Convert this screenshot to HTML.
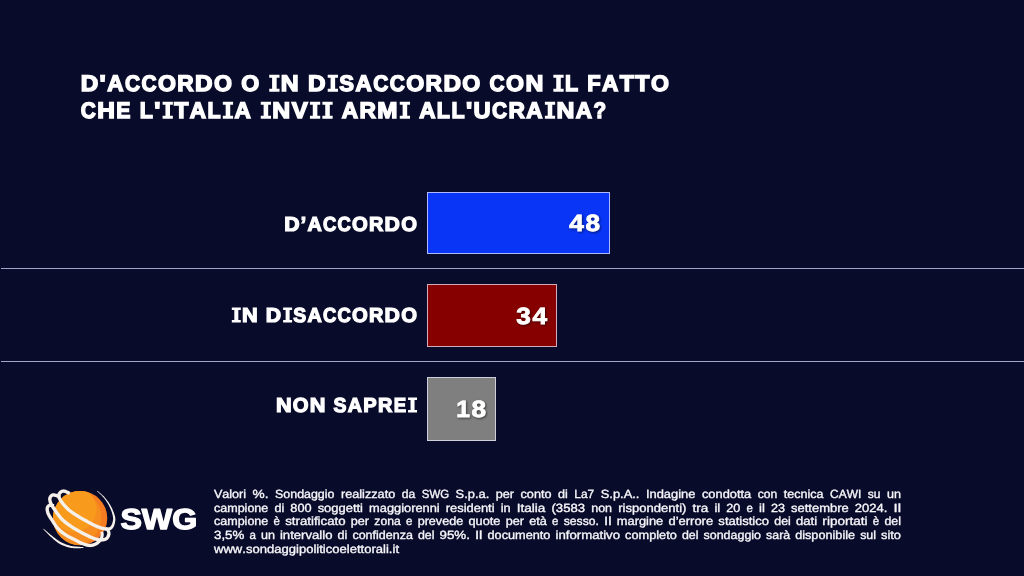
<!DOCTYPE html>
<html><head><meta charset="utf-8">
<style>
html,body{margin:0;padding:0;}
body{width:1024px;height:576px;background:#090b2a;overflow:hidden;position:relative;font-family:"Liberation Sans",sans-serif;}
.bar{position:absolute;left:427px;box-sizing:border-box;border:1px solid rgba(238,238,255,.72);}
.sep{position:absolute;left:1px;width:1023px;height:1px;background:#a4a4c8;}
svg{position:absolute;left:0;top:0;}
text{font-family:"Liberation Sans",sans-serif;white-space:pre;font-variant-ligatures:none;font-kerning:none;}
.b{font-weight:bold;}
.r{font-weight:normal;}
</style></head><body>
<div class="bar" style="top:192px;width:183px;height:62px;background:#0835f6;"></div>
<div class="bar" style="top:284px;width:130px;height:63px;background:#870000;"></div>
<div class="bar" style="top:377px;width:69px;height:63.6px;background:#7f7f80;"></div>
<div class="sep" style="top:268px;"></div>
<div class="sep" style="top:361px;"></div>

<svg id="logo" style="left:36px;top:482px;" width="180" height="80" viewBox="0 0 1440 640">
<defs><clipPath id="bc"><circle cx="353" cy="289" r="217"/></clipPath></defs>
<circle cx="353" cy="289" r="217" fill="#f57c20"/>
<g clip-path="url(#bc)"><circle cx="296" cy="285" r="228" fill="#f68d1e"/><circle cx="306" cy="220" r="178" fill="#f89a1c"/></g>
<g fill="#f6f0ea">
<path d="M276 80L272 78L268 76L264 74L260 72L256 70L251 68L247 66L243 64L238 62L234 60L229 59L224 59L219 58L215 59L211 60L207 61L203 62L199 64L196 66L192 68L189 70L187 72L184 75L182 77L180 79L178 82L176 85L174 88L173 91L171 95L170 99L169 103L169 107L169 111L169 115L170 120L171 124L172 129L174 133L176 137L178 142L181 146L184 151L186 156L189 160L193 165L196 170L199 174L203 179L207 184L211 189L215 194L220 199L224 204L229 209L234 214L239 219L244 224L249 229L254 233L259 238L265 242L270 246L275 250L281 254L286 257L292 261L297 265L303 268L308 271L313 275L319 278L324 282L329 285L334 288L340 291L345 295L350 298L355 301L361 304L367 307L373 311L379 314L386 318L393 322L400 326L408 330L417 335L425 339L434 344L443 349L452 353L460 358L469 362L477 365L485 369L492 371L500 374L507 377L514 379L521 381L528 383L535 385L541 386L548 388L554 389L560 389L565 389L571 390L576 389L581 389L585 388L590 387L594 385L598 383L602 381L605 378L609 375L612 372L615 368L618 364L620 360L623 355L625 350L627 345L628 340L630 334L631 329L632 323L633 318L634 313L634 308L635 303L635 299L635 294L634 289L634 285L633 280L632 276L631 271L630 267L628 262L627 257L625 252L623 246L621 241L619 235L616 229L614 223L611 216L608 210L605 204L602 198L598 192L595 186L592 180L589 175L585 169L582 164L578 158L574 153L570 148L566 143L562 138L558 133L554 128L550 123L546 118L542 114L537 109L533 105L528 101L524 97L519 93L515 89L510 86L505 82L501 78L496 74L492 70L488 74L493 78L497 82L502 86L506 90L510 94L515 98L519 102L524 106L528 110L532 115L536 119L540 124L544 128L548 133L551 138L555 143L559 148L562 153L566 159L569 164L573 169L576 175L579 180L582 186L585 191L588 197L591 203L594 209L596 215L599 222L601 228L604 234L606 240L608 245L609 251L611 256L612 261L613 266L614 270L615 275L616 279L616 283L617 287L617 290L617 294L617 298L616 302L616 306L615 310L614 315L613 319L612 324L610 329L609 333L607 337L605 342L603 345L601 349L599 351L597 354L595 356L593 357L591 359L589 360L587 361L585 361L583 362L580 362L577 363L574 363L571 363L567 363L562 362L558 362L552 361L547 360L541 358L535 357L529 355L522 353L516 351L509 349L502 346L495 343L488 340L480 337L472 333L464 329L455 325L447 320L438 316L430 311L421 307L413 302L406 298L398 294L392 291L386 287L380 284L374 281L369 278L364 275L359 271L354 268L349 265L344 262L339 259L333 256L328 252L322 249L317 245L312 242L306 238L301 235L296 231L291 228L286 224L281 221L276 217L272 213L267 209L263 204L258 200L253 195L249 190L244 186L240 181L236 176L232 171L228 167L224 162L221 158L218 154L215 149L212 145L209 141L207 137L204 133L202 130L201 126L199 123L198 119L197 117L196 114L196 112L196 110L196 108L196 107L196 105L197 104L197 102L198 101L199 99L200 98L201 96L202 95L203 94L205 92L206 91L208 90L209 89L211 88L213 87L215 86L217 86L218 86L220 85L222 85L224 86L226 86L229 87L232 89L236 90L240 92L243 94L248 96L252 98L256 100L260 102L264 104Z"/>
<path d="M199 107L194 106L190 104L185 102L180 100L174 98L169 96L164 94L159 93L153 91L148 90L143 90L137 90L132 90L127 92L123 93L119 96L115 98L112 101L109 105L106 108L104 111L102 115L101 118L99 122L98 126L97 130L97 134L97 138L97 142L98 146L98 150L99 154L100 158L101 163L103 167L104 171L106 175L108 179L110 184L112 188L115 192L117 197L120 201L123 206L126 211L129 215L132 220L136 226L139 231L143 237L148 243L152 249L156 255L161 262L166 268L171 275L176 281L181 288L186 293L191 299L196 305L201 310L206 315L212 319L217 324L222 329L228 333L233 337L238 342L244 346L249 350L255 354L261 358L267 362L273 366L279 370L285 374L291 378L297 381L303 385L310 388L316 392L321 395L327 399L333 402L339 405L344 408L350 412L356 415L361 418L367 421L372 424L378 427L384 429L389 432L395 435L401 438L407 441L413 444L419 447L426 450L432 453L438 455L444 458L450 460L456 463L462 465L468 467L473 469L479 470L484 471L489 473L494 474L499 475L504 475L508 476L513 476L518 477L522 477L527 476L531 476L535 476L540 475L544 474L548 473L552 472L556 471L560 469L564 467L568 465L571 463L575 460L578 457L581 454L584 450L586 446L588 442L590 439L592 435L593 431L594 427L595 423L596 419L596 415L597 411L596 407L596 404L595 400L594 396L593 393L592 390L590 387L589 384L587 382L586 379L585 377L583 375L581 372L579 370L577 368L575 366L573 365L572 364L570 362L568 361L567 360L566 359L564 358L550 374L551 375L553 377L554 379L556 380L557 381L559 382L560 383L561 385L561 386L562 387L563 388L563 389L564 391L565 393L566 395L567 397L568 399L568 402L569 404L569 406L570 408L570 409L570 411L570 413L569 415L569 417L568 420L567 422L566 425L565 428L564 430L563 433L561 435L560 437L558 439L557 440L556 441L554 442L552 443L549 445L547 446L544 446L541 447L538 448L535 449L532 449L529 449L525 450L522 450L518 450L515 449L511 449L507 449L503 448L499 447L495 446L490 445L486 444L481 443L476 441L471 439L466 438L460 435L455 433L449 431L443 428L437 425L431 422L425 419L419 417L413 414L407 411L401 408L396 405L390 403L385 400L379 397L374 394L368 391L363 388L358 385L352 382L346 379L341 375L335 372L329 369L323 365L317 362L311 358L305 355L299 351L293 347L288 344L282 340L276 336L271 332L266 328L260 324L255 320L250 316L245 312L240 308L235 304L230 299L225 295L220 290L216 286L211 281L206 276L202 270L197 264L192 258L188 252L183 246L178 240L174 233L170 227L166 221L162 216L158 210L155 205L152 201L149 196L146 192L143 187L141 183L138 179L136 175L134 172L133 168L131 165L130 161L128 158L127 154L126 151L125 148L125 145L124 142L124 140L124 137L124 135L124 133L124 132L125 130L125 129L126 127L127 125L128 123L129 122L131 121L132 119L133 118L135 118L136 117L137 117L139 116L141 116L143 117L147 118L151 119L155 120L160 122L165 124L170 125L175 127L181 129L186 131L191 133Z"/>
<path d="M146 177L143 176L140 176L137 175L134 175L130 174L127 174L123 173L119 173L115 172L111 173L107 173L103 174L99 176L96 178L93 180L90 182L87 185L85 188L83 191L81 194L79 197L78 201L77 204L77 208L76 212L76 216L76 220L76 224L77 228L78 232L79 237L80 241L81 246L82 250L84 255L86 259L88 264L90 268L92 273L95 277L98 282L100 287L103 291L106 296L109 300L112 305L116 310L119 314L122 319L125 324L128 329L132 335L135 340L139 346L143 352L146 357L151 363L155 368L159 374L164 379L169 384L174 389L179 394L184 399L189 404L195 408L200 413L206 417L212 422L218 426L224 430L230 434L236 438L242 442L249 446L256 449L262 453L269 456L276 459L282 463L289 466L295 468L300 471L306 474L311 477L316 479L320 482L325 484L329 487L333 489L338 492L342 494L347 496L351 498L356 501L361 503L366 504L371 506L376 508L382 510L387 512L393 514L398 516L404 517L409 518L415 519L421 520L426 520L432 521L438 520L443 520L448 519L454 518L459 517L464 516L469 514L474 512L479 510L483 508L488 506L492 503L496 500L500 497L504 494L508 490L511 487L515 483L518 479L521 476L523 472L526 469L528 466L530 462L532 458L534 455L536 451L537 448L538 444L539 441L540 437L541 434L541 431L542 428L542 425L542 421L542 418L542 415L541 412L541 409L540 407L540 404L539 402L538 400L538 399L537 397L537 395L515 399L516 401L516 404L517 406L517 408L518 410L518 412L518 414L518 415L518 417L518 418L518 420L518 421L517 424L517 426L516 428L516 431L515 433L514 436L513 438L512 441L510 443L509 446L508 448L506 450L504 453L502 456L499 459L497 462L494 465L492 468L489 471L486 474L483 476L480 478L477 480L474 482L471 484L468 485L464 487L460 488L456 490L452 491L448 492L444 492L440 493L436 493L432 494L428 494L423 493L419 493L415 492L410 491L405 490L400 488L396 487L391 485L386 483L381 481L376 479L371 477L367 476L362 474L358 472L354 470L350 468L346 466L342 463L338 461L333 458L329 456L324 453L318 450L312 447L306 444L300 441L294 438L287 435L281 432L275 429L268 425L262 422L256 419L250 415L244 412L239 408L233 404L228 400L223 396L217 392L212 388L207 383L202 379L197 374L193 370L188 365L184 361L180 356L176 352L172 347L168 342L165 336L161 331L158 326L154 320L151 315L148 310L145 305L141 300L138 295L135 290L132 285L129 281L126 276L123 272L121 268L118 264L116 260L114 256L112 252L110 249L109 245L108 242L107 238L106 235L105 231L104 228L104 225L103 222L103 219L103 216L103 214L103 212L104 210L104 209L105 207L105 206L106 205L106 204L107 203L108 202L109 201L110 201L111 200L111 200L112 200L113 199L115 199L117 200L120 200L123 200L126 201L129 201L133 202L136 203L140 203L144 203Z"/>
<path d="M57 375L62 381L67 386L71 391L76 396L81 401L86 406L91 411L96 416L101 422L106 427L112 432L117 437L123 442L128 446L134 452L139 457L145 462L151 467L157 471L163 476L169 481L175 485L181 489L188 493L194 497L201 501L208 504L215 507L222 510L229 512L236 515L243 517L250 519L257 521L264 523L270 525L277 526L283 527L290 528L296 528L302 529L308 529L314 529L320 529L325 529L330 529L335 529L340 529L344 529L348 529L352 529L355 529L359 529L362 528L365 528L368 528L371 528L374 527L377 527L380 527L380 521L377 521L374 520L371 520L368 520L365 520L362 519L359 519L356 519L352 518L349 518L345 517L340 517L336 517L331 516L325 516L320 516L315 515L309 515L303 514L297 514L291 513L286 512L280 511L274 509L268 508L262 506L255 504L249 501L242 499L235 497L229 494L222 491L215 488L209 485L202 482L196 479L190 475L184 471L178 468L172 463L166 459L160 455L154 450L148 446L142 441L136 437L131 432L125 427L119 423L114 419L108 414L103 409L97 405L92 400L86 396L81 391L76 386L70 382L65 377L59 373Z"/>
</g>
</svg>

<svg id="txt" style="opacity:.999;text-rendering:geometricPrecision" width="1024" height="576" viewBox="0 0 1024 576">
<defs><filter id="bl" x="-10%" y="-10%" width="120%" height="130%"><feGaussianBlur stdDeviation="0.9"/></filter></defs>
<text class="b" id="swg" x="120.4" y="529.2" font-size="28.9" textLength="76.8" lengthAdjust="spacingAndGlyphs" fill="#fff" stroke="#fff" stroke-width="1.3" stroke-linejoin="round">SWG</text>
<text class="b" x="80.71" y="90.59" font-size="22.41" textLength="17.51" lengthAdjust="spacingAndGlyphs" fill="#fff" stroke="#fff" stroke-width="1.41">D</text>
<text class="b" x="99.63" y="90.59" font-size="22.41" textLength="6.16" lengthAdjust="spacingAndGlyphs" fill="#fff" stroke="#fff" stroke-width="1.41">&#39;</text>
<text class="b" x="107.20" y="90.59" font-size="22.41" textLength="16.28" lengthAdjust="spacingAndGlyphs" fill="#fff" stroke="#fff" stroke-width="1.41">A</text>
<text class="b" x="124.89" y="90.59" font-size="22.41" textLength="15.09" lengthAdjust="spacingAndGlyphs" fill="#fff" stroke="#fff" stroke-width="1.41">C</text>
<text class="b" x="141.40" y="90.59" font-size="22.41" textLength="15.09" lengthAdjust="spacingAndGlyphs" fill="#fff" stroke="#fff" stroke-width="1.41">C</text>
<text class="b" x="157.91" y="90.59" font-size="22.41" textLength="17.97" lengthAdjust="spacingAndGlyphs" fill="#fff" stroke="#fff" stroke-width="1.41">O</text>
<text class="b" x="177.29" y="90.59" font-size="22.41" textLength="16.42" lengthAdjust="spacingAndGlyphs" fill="#fff" stroke="#fff" stroke-width="1.41">R</text>
<text class="b" x="195.12" y="90.59" font-size="22.41" textLength="17.51" lengthAdjust="spacingAndGlyphs" fill="#fff" stroke="#fff" stroke-width="1.41">D</text>
<text class="b" x="214.04" y="90.59" font-size="22.41" textLength="17.97" lengthAdjust="spacingAndGlyphs" fill="#fff" stroke="#fff" stroke-width="1.41">O</text>
<text class="b" x="241.22" y="90.59" font-size="22.41" textLength="17.97" lengthAdjust="spacingAndGlyphs" fill="#fff" stroke="#fff" stroke-width="1.41">O</text>
<path class="b" fill="#fff" d="M269.24 74.87h10.26v2.85h-2.85v11.13h2.85v2.85h-10.26v-2.85h2.85v-11.13h-2.85z"/>
<text class="b" x="280.85" y="90.59" font-size="22.41" textLength="17.90" lengthAdjust="spacingAndGlyphs" fill="#fff" stroke="#fff" stroke-width="1.41">N</text>
<text class="b" x="307.95" y="90.59" font-size="22.41" textLength="17.51" lengthAdjust="spacingAndGlyphs" fill="#fff" stroke="#fff" stroke-width="1.41">D</text>
<path class="b" fill="#fff" d="M327.72 74.87h10.26v2.85h-2.85v11.13h2.85v2.85h-10.26v-2.85h2.85v-11.13h-2.85z"/>
<text class="b" x="339.33" y="90.59" font-size="22.41" textLength="14.77" lengthAdjust="spacingAndGlyphs" fill="#fff" stroke="#fff" stroke-width="1.41">S</text>
<text class="b" x="355.52" y="90.59" font-size="22.41" textLength="16.28" lengthAdjust="spacingAndGlyphs" fill="#fff" stroke="#fff" stroke-width="1.41">A</text>
<text class="b" x="373.21" y="90.59" font-size="22.41" textLength="15.09" lengthAdjust="spacingAndGlyphs" fill="#fff" stroke="#fff" stroke-width="1.41">C</text>
<text class="b" x="389.72" y="90.59" font-size="22.41" textLength="15.09" lengthAdjust="spacingAndGlyphs" fill="#fff" stroke="#fff" stroke-width="1.41">C</text>
<text class="b" x="406.22" y="90.59" font-size="22.41" textLength="17.97" lengthAdjust="spacingAndGlyphs" fill="#fff" stroke="#fff" stroke-width="1.41">O</text>
<text class="b" x="425.60" y="90.59" font-size="22.41" textLength="16.42" lengthAdjust="spacingAndGlyphs" fill="#fff" stroke="#fff" stroke-width="1.41">R</text>
<text class="b" x="443.43" y="90.59" font-size="22.41" textLength="17.51" lengthAdjust="spacingAndGlyphs" fill="#fff" stroke="#fff" stroke-width="1.41">D</text>
<text class="b" x="462.36" y="90.59" font-size="22.41" textLength="17.97" lengthAdjust="spacingAndGlyphs" fill="#fff" stroke="#fff" stroke-width="1.41">O</text>
<text class="b" x="489.53" y="90.59" font-size="22.41" textLength="15.09" lengthAdjust="spacingAndGlyphs" fill="#fff" stroke="#fff" stroke-width="1.41">C</text>
<text class="b" x="506.04" y="90.59" font-size="22.41" textLength="17.97" lengthAdjust="spacingAndGlyphs" fill="#fff" stroke="#fff" stroke-width="1.41">O</text>
<text class="b" x="525.42" y="90.59" font-size="22.41" textLength="17.90" lengthAdjust="spacingAndGlyphs" fill="#fff" stroke="#fff" stroke-width="1.41">N</text>
<path class="b" fill="#fff" d="M553.37 74.87h10.26v2.85h-2.85v11.13h2.85v2.85h-10.26v-2.85h2.85v-11.13h-2.85z"/>
<text class="b" x="564.98" y="90.59" font-size="22.41" textLength="13.11" lengthAdjust="spacingAndGlyphs" fill="#fff" stroke="#fff" stroke-width="1.41">L</text>
<text class="b" x="587.30" y="90.59" font-size="22.41" textLength="13.41" lengthAdjust="spacingAndGlyphs" fill="#fff" stroke="#fff" stroke-width="1.41">F</text>
<text class="b" x="602.12" y="90.59" font-size="22.41" textLength="16.28" lengthAdjust="spacingAndGlyphs" fill="#fff" stroke="#fff" stroke-width="1.41">A</text>
<text class="b" x="619.81" y="90.59" font-size="22.41" textLength="14.14" lengthAdjust="spacingAndGlyphs" fill="#fff" stroke="#fff" stroke-width="1.41">T</text>
<text class="b" x="635.36" y="90.59" font-size="22.41" textLength="14.14" lengthAdjust="spacingAndGlyphs" fill="#fff" stroke="#fff" stroke-width="1.41">T</text>
<text class="b" x="650.91" y="90.59" font-size="22.41" textLength="17.97" lengthAdjust="spacingAndGlyphs" fill="#fff" stroke="#fff" stroke-width="1.41">O</text>
<text class="b" x="80.71" y="117.59" font-size="22.41" textLength="15.09" lengthAdjust="spacingAndGlyphs" fill="#fff" stroke="#fff" stroke-width="1.41">C</text>
<text class="b" x="97.21" y="117.59" font-size="22.41" textLength="17.67" lengthAdjust="spacingAndGlyphs" fill="#fff" stroke="#fff" stroke-width="1.41">H</text>
<text class="b" x="116.30" y="117.59" font-size="22.41" textLength="14.16" lengthAdjust="spacingAndGlyphs" fill="#fff" stroke="#fff" stroke-width="1.41">E</text>
<text class="b" x="139.67" y="117.59" font-size="22.41" textLength="13.11" lengthAdjust="spacingAndGlyphs" fill="#fff" stroke="#fff" stroke-width="1.41">L</text>
<text class="b" x="154.19" y="117.59" font-size="22.41" textLength="6.16" lengthAdjust="spacingAndGlyphs" fill="#fff" stroke="#fff" stroke-width="1.41">&#39;</text>
<path class="b" fill="#fff" d="M162.60 101.87h10.26v2.85h-2.85v11.13h2.85v2.85h-10.26v-2.85h2.85v-11.13h-2.85z"/>
<text class="b" x="174.21" y="117.59" font-size="22.41" textLength="14.14" lengthAdjust="spacingAndGlyphs" fill="#fff" stroke="#fff" stroke-width="1.41">T</text>
<text class="b" x="189.76" y="117.59" font-size="22.41" textLength="16.28" lengthAdjust="spacingAndGlyphs" fill="#fff" stroke="#fff" stroke-width="1.41">A</text>
<text class="b" x="207.45" y="117.59" font-size="22.41" textLength="13.11" lengthAdjust="spacingAndGlyphs" fill="#fff" stroke="#fff" stroke-width="1.41">L</text>
<path class="b" fill="#fff" d="M222.82 101.87h10.26v2.85h-2.85v11.13h2.85v2.85h-10.26v-2.85h2.85v-11.13h-2.85z"/>
<text class="b" x="234.42" y="117.59" font-size="22.41" textLength="16.28" lengthAdjust="spacingAndGlyphs" fill="#fff" stroke="#fff" stroke-width="1.41">A</text>
<path class="b" fill="#fff" d="M260.76 101.87h10.26v2.85h-2.85v11.13h2.85v2.85h-10.26v-2.85h2.85v-11.13h-2.85z"/>
<text class="b" x="272.36" y="117.59" font-size="22.41" textLength="17.90" lengthAdjust="spacingAndGlyphs" fill="#fff" stroke="#fff" stroke-width="1.41">N</text>
<text class="b" x="291.68" y="117.59" font-size="22.41" textLength="16.01" lengthAdjust="spacingAndGlyphs" fill="#fff" stroke="#fff" stroke-width="1.41">V</text>
<path class="b" fill="#fff" d="M309.94 101.87h10.26v2.85h-2.85v11.13h2.85v2.85h-10.26v-2.85h2.85v-11.13h-2.85z"/>
<path class="b" fill="#fff" d="M322.39 101.87h10.26v2.85h-2.85v11.13h2.85v2.85h-10.26v-2.85h2.85v-11.13h-2.85z"/>
<text class="b" x="341.79" y="117.59" font-size="22.41" textLength="16.28" lengthAdjust="spacingAndGlyphs" fill="#fff" stroke="#fff" stroke-width="1.41">A</text>
<text class="b" x="359.48" y="117.59" font-size="22.41" textLength="16.42" lengthAdjust="spacingAndGlyphs" fill="#fff" stroke="#fff" stroke-width="1.41">R</text>
<text class="b" x="377.31" y="117.59" font-size="22.41" textLength="20.20" lengthAdjust="spacingAndGlyphs" fill="#fff" stroke="#fff" stroke-width="1.41">M</text>
<path class="b" fill="#fff" d="M399.77 101.87h10.26v2.85h-2.85v11.13h2.85v2.85h-10.26v-2.85h2.85v-11.13h-2.85z"/>
<text class="b" x="419.17" y="117.59" font-size="22.41" textLength="16.28" lengthAdjust="spacingAndGlyphs" fill="#fff" stroke="#fff" stroke-width="1.41">A</text>
<text class="b" x="436.87" y="117.59" font-size="22.41" textLength="13.11" lengthAdjust="spacingAndGlyphs" fill="#fff" stroke="#fff" stroke-width="1.41">L</text>
<text class="b" x="451.39" y="117.59" font-size="22.41" textLength="13.11" lengthAdjust="spacingAndGlyphs" fill="#fff" stroke="#fff" stroke-width="1.41">L</text>
<text class="b" x="465.91" y="117.59" font-size="22.41" textLength="6.16" lengthAdjust="spacingAndGlyphs" fill="#fff" stroke="#fff" stroke-width="1.41">&#39;</text>
<text class="b" x="473.48" y="117.59" font-size="22.41" textLength="17.10" lengthAdjust="spacingAndGlyphs" fill="#fff" stroke="#fff" stroke-width="1.41">U</text>
<text class="b" x="492.00" y="117.59" font-size="22.41" textLength="15.09" lengthAdjust="spacingAndGlyphs" fill="#fff" stroke="#fff" stroke-width="1.41">C</text>
<text class="b" x="508.50" y="117.59" font-size="22.41" textLength="16.42" lengthAdjust="spacingAndGlyphs" fill="#fff" stroke="#fff" stroke-width="1.41">R</text>
<text class="b" x="526.33" y="117.59" font-size="22.41" textLength="16.28" lengthAdjust="spacingAndGlyphs" fill="#fff" stroke="#fff" stroke-width="1.41">A</text>
<path class="b" fill="#fff" d="M544.87 101.87h10.26v2.85h-2.85v11.13h2.85v2.85h-10.26v-2.85h2.85v-11.13h-2.85z"/>
<text class="b" x="556.47" y="117.59" font-size="22.41" textLength="17.90" lengthAdjust="spacingAndGlyphs" fill="#fff" stroke="#fff" stroke-width="1.41">N</text>
<text class="b" x="575.79" y="117.59" font-size="22.41" textLength="16.28" lengthAdjust="spacingAndGlyphs" fill="#fff" stroke="#fff" stroke-width="1.41">A</text>
<text class="b" x="593.48" y="117.59" font-size="22.41" textLength="12.65" lengthAdjust="spacingAndGlyphs" fill="#fff" stroke="#fff" stroke-width="1.41">?</text>
<text class="b" x="284.26" y="230.78" font-size="20.28" textLength="15.36" lengthAdjust="spacingAndGlyphs" fill="#fff" stroke="#fff" stroke-width="1.24">D</text>
<text class="b" x="300.86" y="230.78" font-size="20.28" textLength="5.40" lengthAdjust="spacingAndGlyphs" fill="#fff" stroke="#fff" stroke-width="1.24">’</text>
<text class="b" x="307.50" y="230.78" font-size="20.28" textLength="14.28" lengthAdjust="spacingAndGlyphs" fill="#fff" stroke="#fff" stroke-width="1.24">A</text>
<text class="b" x="323.02" y="230.78" font-size="20.28" textLength="13.24" lengthAdjust="spacingAndGlyphs" fill="#fff" stroke="#fff" stroke-width="1.24">C</text>
<text class="b" x="337.50" y="230.78" font-size="20.28" textLength="13.24" lengthAdjust="spacingAndGlyphs" fill="#fff" stroke="#fff" stroke-width="1.24">C</text>
<text class="b" x="351.98" y="230.78" font-size="20.28" textLength="15.76" lengthAdjust="spacingAndGlyphs" fill="#fff" stroke="#fff" stroke-width="1.24">O</text>
<text class="b" x="368.98" y="230.78" font-size="20.28" textLength="14.40" lengthAdjust="spacingAndGlyphs" fill="#fff" stroke="#fff" stroke-width="1.24">R</text>
<text class="b" x="384.62" y="230.78" font-size="20.28" textLength="15.36" lengthAdjust="spacingAndGlyphs" fill="#fff" stroke="#fff" stroke-width="1.24">D</text>
<text class="b" x="401.22" y="230.78" font-size="20.28" textLength="15.76" lengthAdjust="spacingAndGlyphs" fill="#fff" stroke="#fff" stroke-width="1.24">O</text>
<path class="b" fill="#fff" d="M231.82 307.43h9.00v2.50h-2.50v10.19h2.50v2.50h-9.00v-2.50h2.50v-10.19h-2.50z"/>
<text class="b" x="242.00" y="321.68" font-size="20.28" textLength="15.70" lengthAdjust="spacingAndGlyphs" fill="#fff" stroke="#fff" stroke-width="1.24">N</text>
<text class="b" x="265.78" y="321.68" font-size="20.28" textLength="15.36" lengthAdjust="spacingAndGlyphs" fill="#fff" stroke="#fff" stroke-width="1.24">D</text>
<path class="b" fill="#fff" d="M283.12 307.43h9.00v2.50h-2.50v10.19h2.50v2.50h-9.00v-2.50h2.50v-10.19h-2.50z"/>
<text class="b" x="293.30" y="321.68" font-size="20.28" textLength="12.96" lengthAdjust="spacingAndGlyphs" fill="#fff" stroke="#fff" stroke-width="1.24">S</text>
<text class="b" x="307.50" y="321.68" font-size="20.28" textLength="14.28" lengthAdjust="spacingAndGlyphs" fill="#fff" stroke="#fff" stroke-width="1.24">A</text>
<text class="b" x="323.02" y="321.68" font-size="20.28" textLength="13.24" lengthAdjust="spacingAndGlyphs" fill="#fff" stroke="#fff" stroke-width="1.24">C</text>
<text class="b" x="337.50" y="321.68" font-size="20.28" textLength="13.24" lengthAdjust="spacingAndGlyphs" fill="#fff" stroke="#fff" stroke-width="1.24">C</text>
<text class="b" x="351.98" y="321.68" font-size="20.28" textLength="15.76" lengthAdjust="spacingAndGlyphs" fill="#fff" stroke="#fff" stroke-width="1.24">O</text>
<text class="b" x="368.98" y="321.68" font-size="20.28" textLength="14.40" lengthAdjust="spacingAndGlyphs" fill="#fff" stroke="#fff" stroke-width="1.24">R</text>
<text class="b" x="384.62" y="321.68" font-size="20.28" textLength="15.36" lengthAdjust="spacingAndGlyphs" fill="#fff" stroke="#fff" stroke-width="1.24">D</text>
<text class="b" x="401.22" y="321.68" font-size="20.28" textLength="15.76" lengthAdjust="spacingAndGlyphs" fill="#fff" stroke="#fff" stroke-width="1.24">O</text>
<text class="b" x="275.90" y="411.78" font-size="20.28" textLength="15.70" lengthAdjust="spacingAndGlyphs" fill="#fff" stroke="#fff" stroke-width="1.24">N</text>
<text class="b" x="292.84" y="411.78" font-size="20.28" textLength="15.76" lengthAdjust="spacingAndGlyphs" fill="#fff" stroke="#fff" stroke-width="1.24">O</text>
<text class="b" x="309.84" y="411.78" font-size="20.28" textLength="15.70" lengthAdjust="spacingAndGlyphs" fill="#fff" stroke="#fff" stroke-width="1.24">N</text>
<text class="b" x="333.62" y="411.78" font-size="20.28" textLength="12.96" lengthAdjust="spacingAndGlyphs" fill="#fff" stroke="#fff" stroke-width="1.24">S</text>
<text class="b" x="347.82" y="411.78" font-size="20.28" textLength="14.28" lengthAdjust="spacingAndGlyphs" fill="#fff" stroke="#fff" stroke-width="1.24">A</text>
<text class="b" x="363.34" y="411.78" font-size="20.28" textLength="13.42" lengthAdjust="spacingAndGlyphs" fill="#fff" stroke="#fff" stroke-width="1.24">P</text>
<text class="b" x="378.00" y="411.78" font-size="20.28" textLength="14.40" lengthAdjust="spacingAndGlyphs" fill="#fff" stroke="#fff" stroke-width="1.24">R</text>
<text class="b" x="393.64" y="411.78" font-size="20.28" textLength="12.42" lengthAdjust="spacingAndGlyphs" fill="#fff" stroke="#fff" stroke-width="1.24">E</text>
<path class="b" fill="#fff" d="M408.04 397.43h9.00v2.50h-2.50v10.19h2.50v2.50h-9.00v-2.50h2.50v-10.19h-2.50z"/>
<g class="sh" filter="url(#bl)" opacity=".55">
<text class="b" x="570.19" y="232.19" font-size="23.48" textLength="14.59" lengthAdjust="spacingAndGlyphs" fill="#000" stroke="#000" stroke-width="0.82">4</text>
<text class="b" x="586.40" y="232.19" font-size="23.48" textLength="14.59" lengthAdjust="spacingAndGlyphs" fill="#000" stroke="#000" stroke-width="0.82">8</text>
<text class="b" x="517.19" y="325.19" font-size="23.48" textLength="14.59" lengthAdjust="spacingAndGlyphs" fill="#000" stroke="#000" stroke-width="0.82">3</text>
<text class="b" x="533.40" y="325.19" font-size="23.48" textLength="14.59" lengthAdjust="spacingAndGlyphs" fill="#000" stroke="#000" stroke-width="0.82">4</text>
<text class="b" x="457.20" y="418.39" font-size="23.48" textLength="13.68" lengthAdjust="spacingAndGlyphs" fill="#000" stroke="#000" stroke-width="0.82">1</text>
<text class="b" x="472.40" y="418.39" font-size="23.48" textLength="14.59" lengthAdjust="spacingAndGlyphs" fill="#000" stroke="#000" stroke-width="0.82">8</text>
</g>
<text class="b" x="569.19" y="231.19" font-size="23.48" textLength="14.59" lengthAdjust="spacingAndGlyphs" fill="#fff" stroke="#fff" stroke-width="0.82">4</text>
<text class="b" x="585.40" y="231.19" font-size="23.48" textLength="14.59" lengthAdjust="spacingAndGlyphs" fill="#fff" stroke="#fff" stroke-width="0.82">8</text>
<text class="b" x="516.19" y="324.19" font-size="23.48" textLength="14.59" lengthAdjust="spacingAndGlyphs" fill="#fff" stroke="#fff" stroke-width="0.82">3</text>
<text class="b" x="532.40" y="324.19" font-size="23.48" textLength="14.59" lengthAdjust="spacingAndGlyphs" fill="#fff" stroke="#fff" stroke-width="0.82">4</text>
<text class="b" x="456.20" y="417.39" font-size="23.48" textLength="13.68" lengthAdjust="spacingAndGlyphs" fill="#fff" stroke="#fff" stroke-width="0.82">1</text>
<text class="b" x="471.40" y="417.39" font-size="23.48" textLength="14.59" lengthAdjust="spacingAndGlyphs" fill="#fff" stroke="#fff" stroke-width="0.82">8</text>
<text class="r" x="213.98" y="498.00" font-size="11.90" textLength="32.12" lengthAdjust="spacingAndGlyphs" fill="#f6f6fa" stroke="#f6f6fa" stroke-width="0.36">Valori</text>
<text class="r" x="252.60" y="498.00" font-size="11.90" textLength="15.96" lengthAdjust="spacingAndGlyphs" fill="#f6f6fa" stroke="#f6f6fa" stroke-width="0.36">%.</text>
<text class="r" x="275.05" y="498.00" font-size="11.90" textLength="59.41" lengthAdjust="spacingAndGlyphs" fill="#f6f6fa" stroke="#f6f6fa" stroke-width="0.36">Sondaggio</text>
<text class="r" x="340.95" y="498.00" font-size="11.90" textLength="54.30" lengthAdjust="spacingAndGlyphs" fill="#f6f6fa" stroke="#f6f6fa" stroke-width="0.36">realizzato</text>
<text class="r" x="401.75" y="498.00" font-size="11.90" textLength="13.51" lengthAdjust="spacingAndGlyphs" fill="#f6f6fa" stroke="#f6f6fa" stroke-width="0.36">da</text>
<text class="r" x="421.75" y="498.00" font-size="11.90" textLength="27.38" lengthAdjust="spacingAndGlyphs" fill="#f6f6fa" stroke="#f6f6fa" stroke-width="0.36">SWG</text>
<text class="r" x="455.63" y="498.00" font-size="11.90" textLength="33.63" lengthAdjust="spacingAndGlyphs" fill="#f6f6fa" stroke="#f6f6fa" stroke-width="0.36">S.p.a.</text>
<text class="r" x="495.75" y="498.00" font-size="11.90" textLength="18.29" lengthAdjust="spacingAndGlyphs" fill="#f6f6fa" stroke="#f6f6fa" stroke-width="0.36">per</text>
<text class="r" x="520.54" y="498.00" font-size="11.90" textLength="30.93" lengthAdjust="spacingAndGlyphs" fill="#f6f6fa" stroke="#f6f6fa" stroke-width="0.36">conto</text>
<text class="r" x="557.97" y="498.00" font-size="11.90" textLength="9.80" lengthAdjust="spacingAndGlyphs" fill="#f6f6fa" stroke="#f6f6fa" stroke-width="0.36">di</text>
<text class="r" x="574.27" y="498.00" font-size="11.90" textLength="19.97" lengthAdjust="spacingAndGlyphs" fill="#f6f6fa" stroke="#f6f6fa" stroke-width="0.36">La7</text>
<text class="r" x="600.73" y="498.00" font-size="11.90" textLength="38.69" lengthAdjust="spacingAndGlyphs" fill="#f6f6fa" stroke="#f6f6fa" stroke-width="0.36">S.p.A..</text>
<text class="r" x="645.92" y="498.00" font-size="11.90" textLength="49.54" lengthAdjust="spacingAndGlyphs" fill="#f6f6fa" stroke="#f6f6fa" stroke-width="0.36">Indagine</text>
<text class="r" x="701.96" y="498.00" font-size="11.90" textLength="49.27" lengthAdjust="spacingAndGlyphs" fill="#f6f6fa" stroke="#f6f6fa" stroke-width="0.36">condotta</text>
<text class="r" x="757.72" y="498.00" font-size="11.90" textLength="19.59" lengthAdjust="spacingAndGlyphs" fill="#f6f6fa" stroke="#f6f6fa" stroke-width="0.36">con</text>
<text class="r" x="783.81" y="498.00" font-size="11.90" textLength="39.75" lengthAdjust="spacingAndGlyphs" fill="#f6f6fa" stroke="#f6f6fa" stroke-width="0.36">tecnica</text>
<text class="r" x="830.05" y="498.00" font-size="11.90" textLength="31.27" lengthAdjust="spacingAndGlyphs" fill="#f6f6fa" stroke="#f6f6fa" stroke-width="0.36">CAWI</text>
<text class="r" x="867.82" y="498.00" font-size="11.90" textLength="12.71" lengthAdjust="spacingAndGlyphs" fill="#f6f6fa" stroke="#f6f6fa" stroke-width="0.36">su</text>
<text class="r" x="887.04" y="498.00" font-size="11.90" textLength="13.98" lengthAdjust="spacingAndGlyphs" fill="#f6f6fa" stroke="#f6f6fa" stroke-width="0.36">un</text>
<text class="r" x="213.98" y="512.00" font-size="11.90" textLength="54.34" lengthAdjust="spacingAndGlyphs" fill="#f6f6fa" stroke="#f6f6fa" stroke-width="0.36">campione</text>
<text class="r" x="274.42" y="512.00" font-size="11.90" textLength="9.80" lengthAdjust="spacingAndGlyphs" fill="#f6f6fa" stroke="#f6f6fa" stroke-width="0.36">di</text>
<text class="r" x="290.32" y="512.00" font-size="11.90" textLength="21.26" lengthAdjust="spacingAndGlyphs" fill="#f6f6fa" stroke="#f6f6fa" stroke-width="0.36">800</text>
<text class="r" x="317.67" y="512.00" font-size="11.90" textLength="45.32" lengthAdjust="spacingAndGlyphs" fill="#f6f6fa" stroke="#f6f6fa" stroke-width="0.36">soggetti</text>
<text class="r" x="369.09" y="512.00" font-size="11.90" textLength="70.61" lengthAdjust="spacingAndGlyphs" fill="#f6f6fa" stroke="#f6f6fa" stroke-width="0.36">maggiorenni</text>
<text class="r" x="445.80" y="512.00" font-size="11.90" textLength="48.79" lengthAdjust="spacingAndGlyphs" fill="#f6f6fa" stroke="#f6f6fa" stroke-width="0.36">residenti</text>
<text class="r" x="500.69" y="512.00" font-size="11.90" textLength="9.92" lengthAdjust="spacingAndGlyphs" fill="#f6f6fa" stroke="#f6f6fa" stroke-width="0.36">in</text>
<text class="r" x="516.70" y="512.00" font-size="11.90" textLength="28.70" lengthAdjust="spacingAndGlyphs" fill="#f6f6fa" stroke="#f6f6fa" stroke-width="0.36">Italia</text>
<text class="r" x="551.50" y="512.00" font-size="11.90" textLength="33.61" lengthAdjust="spacingAndGlyphs" fill="#f6f6fa" stroke="#f6f6fa" stroke-width="0.36">(3583</text>
<text class="r" x="591.20" y="512.00" font-size="11.90" textLength="20.86" lengthAdjust="spacingAndGlyphs" fill="#f6f6fa" stroke="#f6f6fa" stroke-width="0.36">non</text>
<text class="r" x="618.16" y="512.00" font-size="11.90" textLength="68.29" lengthAdjust="spacingAndGlyphs" fill="#f6f6fa" stroke="#f6f6fa" stroke-width="0.36">rispondenti)</text>
<text class="r" x="692.55" y="512.00" font-size="11.90" textLength="15.75" lengthAdjust="spacingAndGlyphs" fill="#f6f6fa" stroke="#f6f6fa" stroke-width="0.36">tra</text>
<text class="r" x="714.40" y="512.00" font-size="11.90" textLength="5.85" lengthAdjust="spacingAndGlyphs" fill="#f6f6fa" stroke="#f6f6fa" stroke-width="0.36">il</text>
<text class="r" x="726.34" y="512.00" font-size="11.90" textLength="14.05" lengthAdjust="spacingAndGlyphs" fill="#f6f6fa" stroke="#f6f6fa" stroke-width="0.36">20</text>
<text class="r" x="746.49" y="512.00" font-size="11.90" textLength="6.39" lengthAdjust="spacingAndGlyphs" fill="#f6f6fa" stroke="#f6f6fa" stroke-width="0.36">e</text>
<text class="r" x="758.98" y="512.00" font-size="11.90" textLength="5.85" lengthAdjust="spacingAndGlyphs" fill="#f6f6fa" stroke="#f6f6fa" stroke-width="0.36">il</text>
<text class="r" x="770.93" y="512.00" font-size="11.90" textLength="14.05" lengthAdjust="spacingAndGlyphs" fill="#f6f6fa" stroke="#f6f6fa" stroke-width="0.36">23</text>
<text class="r" x="791.07" y="512.00" font-size="11.90" textLength="57.65" lengthAdjust="spacingAndGlyphs" fill="#f6f6fa" stroke="#f6f6fa" stroke-width="0.36">settembre</text>
<text class="r" x="854.82" y="512.00" font-size="11.90" textLength="32.59" lengthAdjust="spacingAndGlyphs" fill="#f6f6fa" stroke="#f6f6fa" stroke-width="0.36">2024.</text>
<text class="r" x="893.51" y="512.00" font-size="11.90" textLength="7.51" lengthAdjust="spacingAndGlyphs" fill="#f6f6fa" stroke="#f6f6fa" stroke-width="0.36">Il</text>
<text class="r" x="213.98" y="525.00" font-size="11.90" textLength="54.34" lengthAdjust="spacingAndGlyphs" fill="#f6f6fa" stroke="#f6f6fa" stroke-width="0.36">campione</text>
<text class="r" x="273.56" y="525.00" font-size="11.90" textLength="6.39" lengthAdjust="spacingAndGlyphs" fill="#f6f6fa" stroke="#f6f6fa" stroke-width="0.36">è</text>
<text class="r" x="285.20" y="525.00" font-size="11.90" textLength="60.37" lengthAdjust="spacingAndGlyphs" fill="#f6f6fa" stroke="#f6f6fa" stroke-width="0.36">stratificato</text>
<text class="r" x="350.81" y="525.00" font-size="11.90" textLength="18.29" lengthAdjust="spacingAndGlyphs" fill="#f6f6fa" stroke="#f6f6fa" stroke-width="0.36">per</text>
<text class="r" x="374.34" y="525.00" font-size="11.90" textLength="26.45" lengthAdjust="spacingAndGlyphs" fill="#f6f6fa" stroke="#f6f6fa" stroke-width="0.36">zona</text>
<text class="r" x="406.03" y="525.00" font-size="11.90" textLength="6.39" lengthAdjust="spacingAndGlyphs" fill="#f6f6fa" stroke="#f6f6fa" stroke-width="0.36">e</text>
<text class="r" x="417.67" y="525.00" font-size="11.90" textLength="45.56" lengthAdjust="spacingAndGlyphs" fill="#f6f6fa" stroke="#f6f6fa" stroke-width="0.36">prevede</text>
<text class="r" x="468.47" y="525.00" font-size="11.90" textLength="31.96" lengthAdjust="spacingAndGlyphs" fill="#f6f6fa" stroke="#f6f6fa" stroke-width="0.36">quote</text>
<text class="r" x="505.68" y="525.00" font-size="11.90" textLength="18.29" lengthAdjust="spacingAndGlyphs" fill="#f6f6fa" stroke="#f6f6fa" stroke-width="0.36">per</text>
<text class="r" x="529.21" y="525.00" font-size="11.90" textLength="17.67" lengthAdjust="spacingAndGlyphs" fill="#f6f6fa" stroke="#f6f6fa" stroke-width="0.36">età</text>
<text class="r" x="552.12" y="525.00" font-size="11.90" textLength="6.39" lengthAdjust="spacingAndGlyphs" fill="#f6f6fa" stroke="#f6f6fa" stroke-width="0.36">e</text>
<text class="r" x="563.76" y="525.00" font-size="11.90" textLength="35.10" lengthAdjust="spacingAndGlyphs" fill="#f6f6fa" stroke="#f6f6fa" stroke-width="0.36">sesso.</text>
<text class="r" x="604.10" y="525.00" font-size="11.90" textLength="7.51" lengthAdjust="spacingAndGlyphs" fill="#f6f6fa" stroke="#f6f6fa" stroke-width="0.36">Il</text>
<text class="r" x="616.86" y="525.00" font-size="11.90" textLength="46.40" lengthAdjust="spacingAndGlyphs" fill="#f6f6fa" stroke="#f6f6fa" stroke-width="0.36">margine</text>
<text class="r" x="668.50" y="525.00" font-size="11.90" textLength="44.64" lengthAdjust="spacingAndGlyphs" fill="#f6f6fa" stroke="#f6f6fa" stroke-width="0.36">d’errore</text>
<text class="r" x="718.39" y="525.00" font-size="11.90" textLength="50.64" lengthAdjust="spacingAndGlyphs" fill="#f6f6fa" stroke="#f6f6fa" stroke-width="0.36">statistico</text>
<text class="r" x="774.27" y="525.00" font-size="11.90" textLength="16.56" lengthAdjust="spacingAndGlyphs" fill="#f6f6fa" stroke="#f6f6fa" stroke-width="0.36">dei</text>
<text class="r" x="796.07" y="525.00" font-size="11.90" textLength="21.08" lengthAdjust="spacingAndGlyphs" fill="#f6f6fa" stroke="#f6f6fa" stroke-width="0.36">dati</text>
<text class="r" x="822.39" y="525.00" font-size="11.90" textLength="45.20" lengthAdjust="spacingAndGlyphs" fill="#f6f6fa" stroke="#f6f6fa" stroke-width="0.36">riportati</text>
<text class="r" x="872.83" y="525.00" font-size="11.90" textLength="6.39" lengthAdjust="spacingAndGlyphs" fill="#f6f6fa" stroke="#f6f6fa" stroke-width="0.36">è</text>
<text class="r" x="884.46" y="525.00" font-size="11.90" textLength="16.56" lengthAdjust="spacingAndGlyphs" fill="#f6f6fa" stroke="#f6f6fa" stroke-width="0.36">del</text>
<text class="r" x="213.98" y="539.00" font-size="11.90" textLength="30.37" lengthAdjust="spacingAndGlyphs" fill="#f6f6fa" stroke="#f6f6fa" stroke-width="0.36">3,5%</text>
<text class="r" x="249.40" y="539.00" font-size="11.90" textLength="6.45" lengthAdjust="spacingAndGlyphs" fill="#f6f6fa" stroke="#f6f6fa" stroke-width="0.36">a</text>
<text class="r" x="260.90" y="539.00" font-size="11.90" textLength="13.98" lengthAdjust="spacingAndGlyphs" fill="#f6f6fa" stroke="#f6f6fa" stroke-width="0.36">un</text>
<text class="r" x="279.94" y="539.00" font-size="11.90" textLength="52.57" lengthAdjust="spacingAndGlyphs" fill="#f6f6fa" stroke="#f6f6fa" stroke-width="0.36">intervallo</text>
<text class="r" x="337.56" y="539.00" font-size="11.90" textLength="9.80" lengthAdjust="spacingAndGlyphs" fill="#f6f6fa" stroke="#f6f6fa" stroke-width="0.36">di</text>
<text class="r" x="352.42" y="539.00" font-size="11.90" textLength="60.43" lengthAdjust="spacingAndGlyphs" fill="#f6f6fa" stroke="#f6f6fa" stroke-width="0.36">confidenza</text>
<text class="r" x="417.90" y="539.00" font-size="11.90" textLength="16.56" lengthAdjust="spacingAndGlyphs" fill="#f6f6fa" stroke="#f6f6fa" stroke-width="0.36">del</text>
<text class="r" x="439.51" y="539.00" font-size="11.90" textLength="30.37" lengthAdjust="spacingAndGlyphs" fill="#f6f6fa" stroke="#f6f6fa" stroke-width="0.36">95%.</text>
<text class="r" x="474.92" y="539.00" font-size="11.90" textLength="7.51" lengthAdjust="spacingAndGlyphs" fill="#f6f6fa" stroke="#f6f6fa" stroke-width="0.36">Il</text>
<text class="r" x="487.49" y="539.00" font-size="11.90" textLength="62.94" lengthAdjust="spacingAndGlyphs" fill="#f6f6fa" stroke="#f6f6fa" stroke-width="0.36">documento</text>
<text class="r" x="555.48" y="539.00" font-size="11.90" textLength="64.61" lengthAdjust="spacingAndGlyphs" fill="#f6f6fa" stroke="#f6f6fa" stroke-width="0.36">informativo</text>
<text class="r" x="625.14" y="539.00" font-size="11.90" textLength="51.70" lengthAdjust="spacingAndGlyphs" fill="#f6f6fa" stroke="#f6f6fa" stroke-width="0.36">completo</text>
<text class="r" x="681.90" y="539.00" font-size="11.90" textLength="16.56" lengthAdjust="spacingAndGlyphs" fill="#f6f6fa" stroke="#f6f6fa" stroke-width="0.36">del</text>
<text class="r" x="703.51" y="539.00" font-size="11.90" textLength="57.56" lengthAdjust="spacingAndGlyphs" fill="#f6f6fa" stroke="#f6f6fa" stroke-width="0.36">sondaggio</text>
<text class="r" x="766.12" y="539.00" font-size="11.90" textLength="24.00" lengthAdjust="spacingAndGlyphs" fill="#f6f6fa" stroke="#f6f6fa" stroke-width="0.36">sarà</text>
<text class="r" x="795.17" y="539.00" font-size="11.90" textLength="59.94" lengthAdjust="spacingAndGlyphs" fill="#f6f6fa" stroke="#f6f6fa" stroke-width="0.36">disponibile</text>
<text class="r" x="860.16" y="539.00" font-size="11.90" textLength="15.82" lengthAdjust="spacingAndGlyphs" fill="#f6f6fa" stroke="#f6f6fa" stroke-width="0.36">sul</text>
<text class="r" x="881.03" y="539.00" font-size="11.90" textLength="19.99" lengthAdjust="spacingAndGlyphs" fill="#f6f6fa" stroke="#f6f6fa" stroke-width="0.36">sito</text>
<text class="r" x="213.98" y="553.00" font-size="11.90" textLength="185.07" lengthAdjust="spacingAndGlyphs" fill="#f6f6fa" stroke="#f6f6fa" stroke-width="0.36">www.sondaggipoliticoelettorali.it</text>
</svg>
</body></html>
